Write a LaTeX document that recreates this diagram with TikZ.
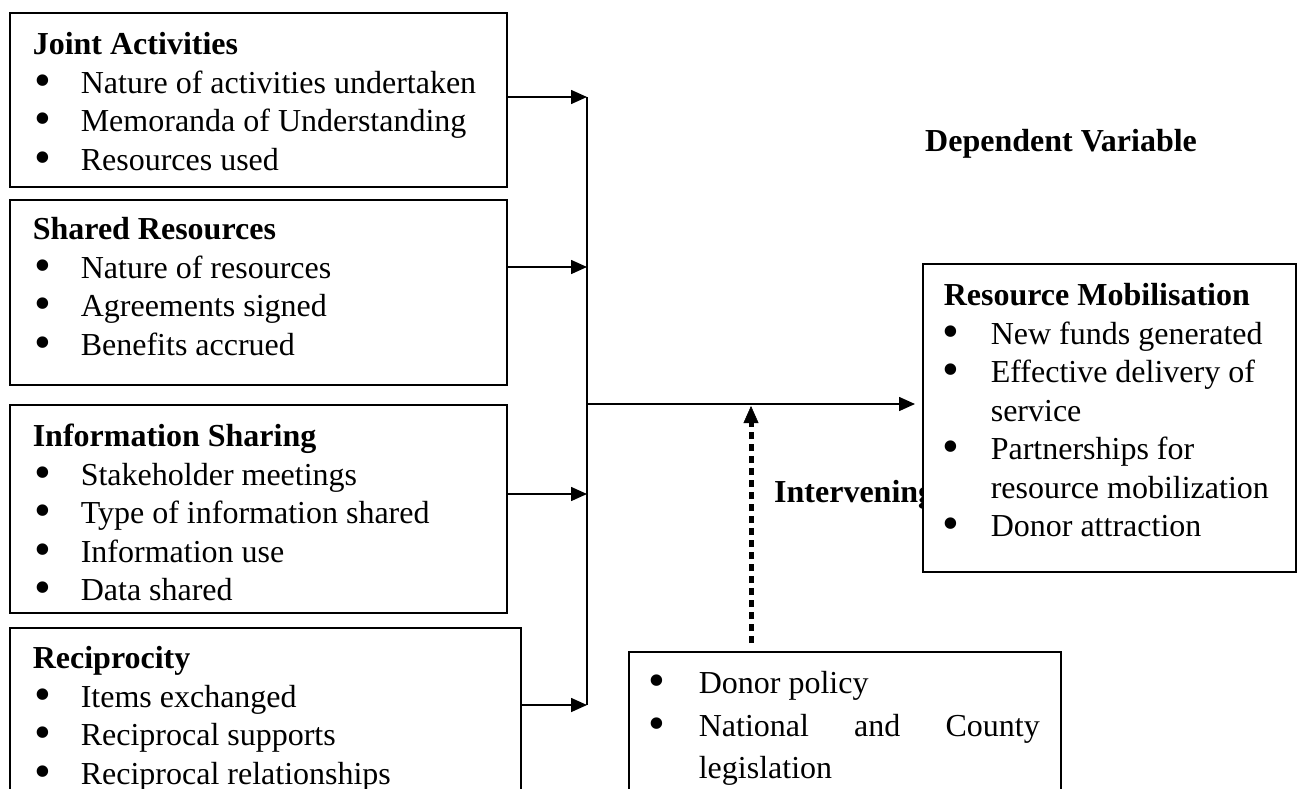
\documentclass[tikz,border=0pt]{standalone}
\usepackage{fontspec}
\setmainfont{Liberation Serif}
\usetikzlibrary{arrows.meta}

\newcommand{\bx}{25pt}
\newcommand{\tx}{71pt}
\newcommand{\hx}{23pt}
\newcommand{\bul}{\raisebox{-0.09em}[0pt][0pt]{\scalebox{1.5}{\textbullet}}}
\newcommand{\hd}[1]{\hspace*{\hx}\textbf{#1}\strut}
\newcommand{\itm}[1]{\par\hspace*{\bx}\makebox[\dimexpr\tx-\bx\relax][l]{\bul}#1\strut}
\newcommand{\cnt}[1]{\par\hspace*{\tx}#1\strut}
\newcommand{\boxbody}[4][42pt]{\parbox[t][#3][t]{#2}{\parskip0pt\parindent0pt\vspace*{\dimexpr#1-0.7\baselineskip\relax}#4}}

\tikzset{
  box/.style={draw,line width=1.6pt,inner sep=0pt,anchor=north west,fill=white},
  lbl/.style={inner sep=0pt,anchor=base west,font=\fontsize{32}{38.5}\selectfont\bfseries},
  link/.style={line width=1.6pt,-{Triangle[length=16pt,width=14pt]}},
  dotlink/.style={line width=5pt,dash pattern=on 7pt off 5pt,-{Triangle[length=17pt,width=15pt,line width=0.5pt]}}
}

\begin{document}
\begin{tikzpicture}[x=1pt,y=-1pt,every node/.style={font=\fontsize{32}{38.5}\selectfont}]
  \useasboundingbox (0,0) rectangle (1301,789);

  \node[box] (joint) at (9,12) {\boxbody{497pt}{174pt}{\hd{Joint Activities}\itm{Nature of activities undertaken}\itm{Memoranda of Understanding}\itm{Resources used}}};
  \node[box] (shared) at (9,199) {\boxbody[40pt]{497pt}{185pt}{\hd{Shared Resources}\itm{Nature of resources}\itm{Agreements signed}\itm{Benefits accrued}}};
  \node[box] (info) at (9,404) {\boxbody{497pt}{208pt}{\hd{Information Sharing}\itm{Stakeholder meetings}\itm{Type of information shared}\itm{Information use}\itm{Data shared}}};
  \node[box] (recip) at (9,627) {\boxbody[41pt]{511pt}{190pt}{\hd{Reciprocity}\itm{Items exchanged}\itm{Reciprocal supports}\itm{Reciprocal relationships}}};

  \node[lbl] (dep) at (925,152) {Dependent Variable};
  \node[lbl] (inter) at (774,502) {Intervening};

  \node[box] (mob) at (922,263) {\renewcommand{\bx}{20pt}\renewcommand{\tx}{68pt}\renewcommand{\hx}{21pt}%
    \boxbody{373pt}{308pt}{\hd{Resource Mobilisation}\itm{New funds generated}\itm{Effective delivery of}\cnt{service}\itm{Partnerships for}\cnt{resource mobilization}\itm{Donor attraction}}};
  \node[box,font=\fontsize{32}{42.5}\selectfont] (policy) at (628,651) {\renewcommand{\bx}{20pt}\renewcommand{\tx}{70pt}%
    \boxbody[42pt]{432pt}{190pt}{\itm{Donor policy}\itm{\makebox[341pt][s]{National\hfill and\hfill County}}\cnt{legislation}}};

  \coordinate (bus) at (587,0);
  \draw[link] (joint.north east) ++(0,85) coordinate (j1) -- (j1 -| bus);
  \draw[link] (shared.north east) ++(0,68) coordinate (j2) -- (j2 -| bus);
  \draw[link] (info.north east) ++(0,90) coordinate (j3) -- (j3 -| bus);
  \draw[link] (recip.north east) ++(0,78) coordinate (j4) -- (j4 -| bus);
  \draw[line width=1.6pt] (j1 -| bus) -- (j4 -| bus);

  \coordinate (mid) at (587,404);
  \draw[link,shorten >=7pt] (mid) -- (mid -| mob.west);
  \coordinate (dtip) at (751,406);
  \draw[dotlink] (policy.north west) ++(123,-8) -- (dtip);
\end{tikzpicture}
\end{document}
